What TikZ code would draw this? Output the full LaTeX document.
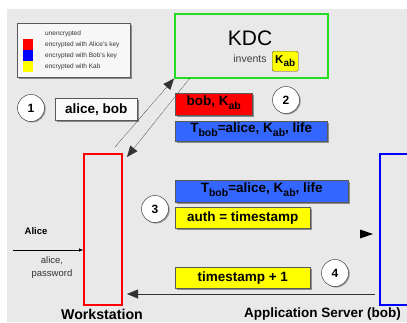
\documentclass[tikz,border=0pt]{standalone}
\usepackage{fontspec}
\setmainfont{Liberation Sans}
\usetikzlibrary{arrows.meta,shadows}
\definecolor{bgray}{HTML}{E9E9E9}
\definecolor{kred}{HTML}{FF0000}
\definecolor{kblue}{HTML}{3366FF}
\definecolor{kyellow}{HTML}{FFFF00}
\definecolor{kgreen}{HTML}{22DD22}
\newcommand{\lowsub}[1]{\raisebox{-0.5ex}{\fontsize{10.5}{10.5}\selectfont #1}}
\tikzset{
  shade box/.style={draw=black!65, line width=0.5pt, inner sep=0pt, anchor=north west,
    drop shadow={shadow xshift=1.5pt, shadow yshift=-1.5pt, fill=black!45, opacity=1}},
  msg/.style={shade box, minimum height=22pt},
  msgtxt/.style={font=\fontsize{13.5}{13.5}\selectfont\bfseries, inner sep=0pt},
  stepnum/.style={circle, draw=black!75, fill=white, line width=0.5pt, minimum size=27pt, inner sep=0pt,
    drop shadow={shadow xshift=1.2pt, shadow yshift=-1pt, fill=black!40, opacity=1},
    font=\fontsize{12}{12}\selectfont\bfseries},
  host/.style={draw, line width=1.6pt, anchor=north west, inner sep=0pt},
  bigtip/.style={-{Triangle[length=11pt,width=9pt]}},
  thinflow/.style={black!80, line width=0.4pt, dash pattern=on 1pt off 0.6pt},
  legtxt/.style={anchor=west, inner sep=0pt, font=\fontsize{6.5}{6.5}\selectfont, text=black!80},
  swatch/.style={anchor=north west, inner sep=0pt, minimum width=10pt, minimum height=11pt},
  hostlabel/.style={font=\fontsize{14.2}{14.2}\selectfont\bfseries, inner sep=0pt}
}
\begin{document}
\begin{tikzpicture}[x=1pt,y=-1pt]
\useasboundingbox (0,0) rectangle (407,322);
\clip (0,0) rectangle (407,322);
\fill[white] (0,0) rectangle (407,322);
\fill[bgray] (7,9) rectangle (407,322);

% legend
\node[shade box, fill=black!3, minimum width=113pt, minimum height=54pt] (legend) at (17,23) {};
\node[swatch, fill=kred] (swr) at (23,39) {};
\node[swatch, fill=blue] (swb) at (23,50) {};
\node[swatch, fill=kyellow] (swy) at (23,61) {};
\node[legtxt] (l0) at (45,34) {unencrypted};
\node[legtxt] (l1) at (45,45) {encrypted with Alice's key};
\node[legtxt] (l2) at (45,56) {encrypted with Bob's key};
\node[legtxt] (l3) at (45,67) {encrypted with Kab};

% hosts
\node[host, draw=kgreen, minimum width=153pt, minimum height=64pt] (kdc) at (174,13) {};
\node[font=\fontsize{21}{21}\selectfont, inner sep=0pt] (kdclabel) at (250,38) {KDC};
\node[font=\fontsize{10.5}{10.5}\selectfont, text=black!75, inner sep=0pt] (invents) at (250,59) {invents};
\node[draw=black!70, fill=kyellow, rounded corners=1.5pt, anchor=north west, inner sep=0pt,
      minimum width=26pt, minimum height=20pt, font=\fontsize{11.5}{11.5}\selectfont\bfseries] (kab) at (272,51)
      {K\raisebox{-0.5ex}{\fontsize{10}{10}\selectfont ab}};

\node[host, draw=kred, minimum width=38pt, minimum height=151pt] (ws) at (83,153) {};
\node[hostlabel] (wslabel) at (102,314) {Workstation};
\node[host, draw=blue, minimum width=40pt, minimum height=151pt] (srv) at (379,153) {};
\node[hostlabel, font=\fontsize{13.5}{13.5}\selectfont\bfseries, anchor=west] (srvlabel) at (244,314) {Application Server (bob)};

% step 1
\node[stepnum] (s1) at (31,108) {1};
\node[msg, fill=black!2, minimum width=82pt] (m1) at (55,98) {};
\node[msgtxt] (m1t) at (m1.center) {alice, bob};

% step 2
\node[stepnum] (s2) at (286,100) {2};
\node[msg, fill=kred, minimum width=77pt] (m2a) at (175,93) {};
\node[msgtxt] (m2at) at ([yshift=1.5pt]m2a.center) {bob, K\lowsub{ab}};
\node[msg, fill=kblue, minimum width=152pt, minimum height=20pt] (m2b) at (175,121) {};
\node[msgtxt] (m2bt) at ([yshift=1.5pt]m2b.center) {T\lowsub{bob}=alice, K\lowsub{ab}, life};

% step 3
\node[stepnum] (s3) at (155,209) {3};
\node[msg, fill=kblue, minimum width=173pt] (m3a) at (175,180) {};
\node[msgtxt] (m3at) at ([yshift=1.5pt]m3a.center) {T\lowsub{bob}=alice, K\lowsub{ab}, life};
\node[msg, fill=kyellow, minimum width=135pt, minimum height=21pt] (m3b) at (175,207) {};
\node[msgtxt] (m3bt) at (m3b.center) {auth = timestamp};

% step 4
\node[stepnum] (s4) at (335,273) {4};
\node[msg, fill=kyellow, minimum width=135pt, minimum height=21pt] (m4) at (175,267) {};
\node[msgtxt] (m4t) at (m4.center) {timestamp + 1};

% connectors
\coordinate (upstart) at (115,147);
\coordinate (downstart) at (190,78);
\draw[thinflow, bigtip] (upstart) -- (kdc.south west);
\draw[thinflow, bigtip] (downstart) -- (127,157);
\coordinate (reqtip) at (373,234);
\fill (reqtip) -- ++(-13,-4.5) -- ++(0,9) -- cycle;
\coordinate (repstart) at (375,294);
\draw[black!80, line width=0.5pt, bigtip] (repstart) -- (127,294);

% user input
\node[font=\fontsize{9.5}{9.5}\selectfont\bfseries, inner sep=0pt] (alice) at (36,231) {Alice};
\coordinate (inpt) at (13,250);
\draw[line width=0.4pt, -{Triangle[length=4pt,width=3pt]}] (inpt) -- (ws.west |- inpt);
\node[font=\fontsize{9.5}{13}\selectfont, text=black!80, align=center, inner sep=0pt] (pw) at (52,268) {alice,\\password};
\end{tikzpicture}
\end{document}
